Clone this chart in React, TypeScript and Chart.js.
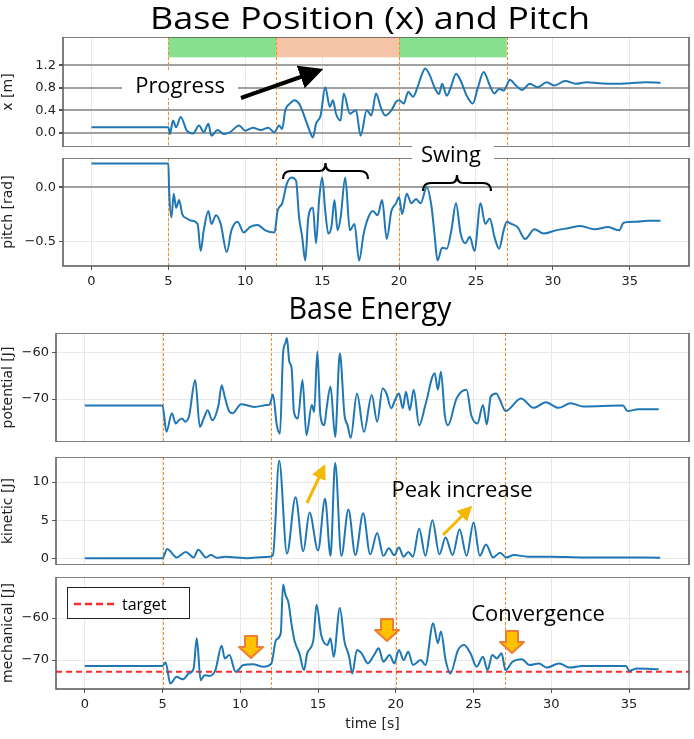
import React, { useEffect, useRef } from "react";
import { Chart, registerables } from "chart.js";
Chart.register(...registerables);

// ---------- data ----------
const xT = [0, 5, 5.1, 5.3, 5.5, 5.8, 6.2, 6.6, 7.0, 7.3, 7.6, 7.8, 8.2, 8.6, 9.0, 9.6, 10.0, 10.5, 11.0, 11.5, 11.9, 12.2, 12.4, 12.6, 12.9, 13.2, 13.5, 13.7, 13.9, 14.1, 14.4, 14.6, 14.9, 15.2, 15.5, 15.7, 15.9, 16.2, 16.4, 16.8, 17.2, 17.5, 17.9, 18.2, 18.5, 18.8, 19.1, 19.5, 19.8, 20.0, 20.3, 20.6, 20.9, 21.2, 21.5, 21.7, 22.0, 22.3, 22.6, 22.8, 23.1, 23.4, 23.7, 24.0, 24.4, 24.8, 25.1, 25.5, 25.9, 26.2, 26.5, 26.8, 27.0, 27.2, 27.6, 28.0, 28.5, 29.0, 29.6, 30.1, 30.8, 31.5, 32.2, 33.0, 34.0, 35.0, 36.0, 37];
const xVal = [0.10, 0.10, -0.02, 0.22, 0.10, 0.28, 0.04, -0.01, 0.13, 0.01, 0.16, -0.05, 0.05, -0.02, 0.01, 0.13, 0.04, 0.09, 0.05, 0.09, 0.01, 0.13, 0.07, 0.40, 0.52, 0.58, 0.52, 0.40, 0.25, 0.10, -0.08, 0.16, 0.31, 0.81, 0.46, 0.58, 0.34, 0.22, 0.70, 0.34, 0.40, -0.05, 0.40, 0.31, 0.70, 0.46, 0.31, 0.40, 0.55, 0.58, 0.52, 0.73, 0.64, 0.81, 1.05, 1.14, 1.02, 0.81, 0.69, 0.87, 0.66, 0.84, 1.05, 0.93, 0.66, 0.52, 0.78, 1.08, 0.84, 0.70, 0.78, 0.75, 0.84, 0.94, 0.84, 0.76, 0.87, 0.81, 0.90, 0.84, 0.92, 0.87, 0.90, 0.88, 0.87, 0.88, 0.90, 0.89];

const pT = [0, 5.0, 5.05, 5.2, 5.35, 5.5, 5.7, 5.9, 6.2, 6.5, 6.9, 7.1, 7.3, 7.6, 7.8, 8.1, 8.4, 8.8, 9.1, 9.5, 9.9, 10.3, 10.8, 11.3, 11.9, 12.1, 12.4, 12.7, 13.0, 13.3, 13.5, 13.7, 13.9, 14.1, 14.4, 14.6, 14.8, 15.0, 15.2, 15.4, 15.6, 15.8, 16.0, 16.2, 16.5, 16.8, 17.1, 17.4, 17.7, 18.0, 18.3, 18.6, 18.9, 19.2, 19.5, 19.8, 20.0, 20.2, 20.5, 20.8, 21.1, 21.4, 21.8, 22.1, 22.3, 22.5, 22.8, 23.1, 23.4, 23.7, 24.0, 24.3, 24.6, 24.9, 25.3, 25.6, 25.9, 26.2, 26.5, 26.8, 27.0, 27.3, 27.7, 28.2, 28.8, 29.4, 30.2, 31.0, 31.8, 32.7, 33.6, 34.3, 34.6, 35.4, 36.2, 37];
const pitchVal = [0.22, 0.22, -0.03, -0.28, -0.06, -0.19, -0.12, -0.25, -0.29, -0.31, -0.34, -0.59, -0.40, -0.22, -0.34, -0.26, -0.34, -0.60, -0.40, -0.32, -0.42, -0.37, -0.35, -0.40, -0.42, -0.22, -0.15, 0.03, 0.09, 0.06, -0.28, -0.46, -0.68, -0.28, -0.19, -0.52, -0.12, 0.09, -0.22, -0.43, -0.37, -0.12, -0.40, -0.28, 0.09, -0.40, -0.34, -0.68, -0.43, -0.28, -0.22, -0.26, -0.12, -0.48, -0.22, -0.15, -0.09, -0.25, -0.06, -0.15, -0.11, -0.15, 0.0, -0.17, -0.43, -0.68, -0.56, -0.57, -0.40, -0.15, -0.43, -0.52, -0.46, -0.59, -0.15, -0.34, -0.29, -0.46, -0.57, -0.40, -0.32, -0.34, -0.37, -0.48, -0.39, -0.43, -0.40, -0.38, -0.36, -0.39, -0.37, -0.40, -0.33, -0.32, -0.31, -0.31];

const uT = [0, 5, 5.25, 5.6, 5.85, 6.05, 6.25, 6.45, 6.7, 7.1, 7.4, 7.65, 7.9, 8.2, 8.6, 8.8, 9.0, 9.25, 9.5, 10.05, 10.9, 11.7, 11.9, 12.1, 12.35, 12.55, 12.75, 12.9, 13.0, 13.15, 13.3, 13.45, 13.7, 14.0, 14.25, 14.6, 14.75, 14.95, 15.15, 15.4, 15.55, 15.8, 16.1, 16.4, 16.7, 16.9, 17.1, 17.5, 17.95, 18.45, 18.8, 19.15, 19.4, 19.7, 19.95, 20.2, 20.45, 20.65, 20.9, 21.15, 21.5, 21.9, 22.5, 22.7, 22.9, 23.15, 23.35, 23.9, 24.55, 24.85, 25.25, 25.6, 25.85, 26.1, 26.45, 26.7, 27.05, 28.05, 28.85, 29.65, 30.45, 31.25, 32.05, 34.6, 34.9, 35.6, 36.9];
const potentialVal = [-71.4, -71.4, -77.1, -73.1, -75.3, -74.6, -74.2, -74.9, -73.8, -65.9, -76.0, -74.2, -72.4, -74.6, -71.3, -67.0, -69.5, -72.4, -73.1, -71.1, -71.7, -71.3, -71.1, -69.0, -75.7, -77.5, -60.1, -57.9, -56.8, -61.9, -63.3, -72.8, -74.2, -65.9, -77.8, -71.3, -72.8, -59.7, -73.5, -75.7, -72.0, -67.3, -78.2, -60.1, -73.5, -75.7, -78.4, -68.8, -77.1, -69.1, -74.9, -67.7, -68.8, -72.0, -70.2, -68.8, -72.0, -68.4, -72.4, -68.0, -75.7, -71.3, -64.4, -68.0, -64.1, -73.5, -75.7, -69.9, -68.0, -73.5, -75.3, -71.3, -75.5, -69.5, -68.8, -70.2, -72.6, -69.9, -71.9, -70.7, -71.9, -70.9, -71.6, -71.4, -72.6, -72.2, -72.2];

const kT = [0, 5, 5.3, 5.9, 6.5, 7.0, 7.3, 7.8, 8.1, 8.5, 9.0, 10.5, 11.9, 12.1, 12.5, 13.0, 13.55, 14.05, 14.45, 15.0, 15.45, 15.8, 16.1, 16.5, 16.95, 17.4, 17.9, 18.35, 18.8, 19.2, 19.55, 19.9, 20.2, 20.5, 20.8, 21.1, 21.5, 21.9, 22.35, 22.8, 23.2, 23.65, 24.1, 24.55, 25.0, 25.4, 25.8, 26.25, 26.7, 27.1, 27.6, 28.5, 30, 32, 34, 37];
const kineticVal = [0.0, 0.0, 1.2, 0.1, 0.8, 0.1, 1.1, 0.1, 0.4, 0.05, 0.2, 0.0, 0.2, 0.4, 12.8, 0.6, 8.0, 0.9, 6.0, 1.0, 7.8, 0.3, 12.5, 0.3, 6.4, 0.4, 5.9, 0.5, 3.3, 0.3, 1.3, 0.4, 1.4, 0.2, 0.8, 0.2, 3.9, 0.3, 5.0, 0.5, 2.7, 0.4, 3.8, 0.3, 4.7, 0.3, 1.8, 0.1, 0.7, 0.1, 0.4, 0.2, 0.2, 0.1, 0.1, 0.05];

const mT = [0, 5, 5.2, 5.5, 5.9, 6.3, 6.7, 7.0, 7.2, 7.45, 7.7, 8.0, 8.4, 8.8, 9.0, 9.3, 9.7, 10.2, 10.8, 11.5, 12.0, 12.3, 12.6, 12.75, 12.9, 13.1, 13.3, 13.5, 13.8, 14.1, 14.3, 14.7, 14.9, 15.2, 15.6, 15.8, 16.0, 16.4, 16.7, 17.0, 17.2, 17.5, 17.8, 18.2, 18.6, 18.9, 19.2, 19.6, 19.9, 20.2, 20.5, 20.8, 21.1, 21.6, 21.9, 22.4, 22.7, 22.9, 23.2, 23.5, 24.0, 24.4, 24.8, 25.2, 25.6, 25.9, 26.2, 26.5, 26.8, 27.05, 27.5, 28.1, 28.6, 29.2, 29.7, 30.5, 31.2, 32.0, 34.8, 35.0, 35.5, 36.9];
const mechanicalVal = [-71.4, -71.4, -70.6, -75.6, -74.0, -74.6, -73.2, -72.0, -64.8, -74.8, -73.6, -73.8, -72.4, -66.6, -69.6, -68.8, -72.8, -71.2, -71.0, -71.6, -70.8, -65.2, -63.6, -52.0, -54.4, -56.4, -61.6, -65.6, -68.4, -72.4, -68.4, -65.2, -56.8, -64.0, -66.4, -64.8, -69.2, -57.6, -65.6, -69.2, -73.2, -67.6, -68.4, -70.8, -68.8, -67.2, -70.4, -68.8, -70.8, -67.6, -70.0, -68.0, -71.2, -70.0, -71.2, -61.2, -66.0, -63.2, -70.0, -73.2, -67.6, -66.4, -68.4, -71.6, -69.2, -72.4, -68.8, -69.6, -68.4, -72.4, -70.4, -69.8, -71.2, -70.8, -71.8, -70.8, -71.8, -71.4, -71.4, -72.6, -72.0, -72.2];

const targetEnergy = -72.8;
const phaseLines = [5, 12, 20, 27];
const phaseBands = [[5, 12, "#86e08e"], [12, 20, "#f5c4a7"], [20, 27, "#86e08e"]];
const xTicks = [0, 5, 10, 15, 20, 25, 30, 35];

// ---------- chart helpers ----------
const FONT = "'DejaVu Sans', sans-serif";
const minus = (v: number, d: number) => v.toFixed(d).replace("-", "\u2212");

const marksPlugin = {
  id: "marks",
  beforeDatasetsDraw(chart: any, _a: any, opts: any) {
    const { ctx, chartArea: a, scales } = chart;
    const xs = scales.x, ys = scales.y;
    ctx.save();
    if (opts.bands) {
      for (const [s, e, c] of phaseBands as any) {
        ctx.fillStyle = c;
        const y0 = ys.getPixelForValue(opts.bands[1]);
        const y1 = ys.getPixelForValue(opts.bands[0]);
        ctx.fillRect(xs.getPixelForValue(s), y0, xs.getPixelForValue(e) - xs.getPixelForValue(s), y1 - y0);
      }
    }
    ctx.strokeStyle = "#ff8c1a";
    ctx.lineWidth = 1;
    ctx.setLineDash([3, 2]);
    for (const t of phaseLines) {
      const px = Math.round(xs.getPixelForValue(t)) + 0.5;
      ctx.beginPath(); ctx.moveTo(px, a.top); ctx.lineTo(px, a.bottom); ctx.stroke();
    }
    ctx.restore();
  },
  afterDraw(chart: any) {
    const { ctx, chartArea: a } = chart;
    ctx.save();
    ctx.strokeStyle = "#555";
    ctx.lineWidth = 1.5;
    ctx.strokeRect(a.left, a.top, a.right - a.left, a.bottom - a.top);
    ctx.restore();
  },
};

type Spec = {
  top: number; bottom: number; left: number; right: number;
  t: number[]; v: number[]; ymin: number; ymax: number; yticks: number[]; dec: number;
  ylabel: string; showX: boolean; xTitle?: boolean; heavy?: number[]; bands?: number[]; target?: boolean;
};

function Panel({ s }: { s: Spec }) {
  const ref = useRef<HTMLCanvasElement>(null);
  const xH = s.showX ? (s.xTitle ? 44 : 24) : 0;
  const h = s.bottom - s.top + xH;
  useEffect(() => {
    const datasets: any[] = [{
      data: s.t.map((t, i) => ({ x: t, y: s.v[i] })),
      borderColor: "#1f77b4", borderWidth: 2, pointRadius: 0,
      cubicInterpolationMode: "monotone", fill: false,
    }];
    if (s.target) {
      datasets.push({
        data: [{ x: -1.85, y: targetEnergy }, { x: 38.85, y: targetEnergy }],
        borderColor: "#ff2a2a", borderWidth: 2, borderDash: [6, 4], pointRadius: 0,
      });
    }
    const c = new Chart(ref.current!, {
      type: "line",
      data: { datasets },
      plugins: [marksPlugin],
      options: {
        animation: false, responsive: false, maintainAspectRatio: false,
        layout: { padding: { left: 0, right: 694 - s.right, top: 0, bottom: 0 } },
        plugins: { legend: { display: false }, tooltip: { enabled: false }, marks: { bands: s.bands } } as any,
        scales: {
          x: {
            type: "linear", min: -1.85, max: 38.85,
            afterBuildTicks: (sc: any) => { sc.ticks = xTicks.map((v) => ({ value: v })); },
            afterFit: (sc: any) => { sc.height = xH; sc.paddingLeft = 0; sc.paddingRight = 0; },
            border: { display: false },
            grid: { color: "#e8e8e8", lineWidth: 1, tickLength: 4, tickColor: "#555" },
            ticks: { display: s.showX, color: "#222", font: { family: FONT, size: 13 }, maxRotation: 0, padding: 4 },
            title: { display: !!s.xTitle, text: "time [s]", color: "#222", font: { family: FONT, size: 14 }, padding: { top: 0, bottom: 0 } },
          },
          y: {
            min: s.ymin, max: s.ymax,
            afterBuildTicks: (sc: any) => { sc.ticks = s.yticks.map((v) => ({ value: v })); },
            afterFit: (sc: any) => { sc.width = s.left; sc.paddingTop = 0; sc.paddingBottom = 0; },
            border: { display: false },
            grid: {
              color: (ctx: any) => (s.heavy && s.heavy.includes(ctx.tick?.value) ? "#a0a0a0" : "#e8e8e8"),
              lineWidth: (ctx: any) => (s.heavy && s.heavy.includes(ctx.tick?.value) ? 2 : 1),
              tickLength: 4, tickColor: "#555",
            },
            ticks: { color: "#222", font: { family: FONT, size: 13 }, padding: 3, callback: (v: any) => minus(Number(v), s.dec) },
            title: { display: true, text: s.ylabel, color: "#222", font: { family: FONT, size: 14 }, padding: { top: 0, bottom: 0 } },
          },
        },
      } as any,
    });
    return () => c.destroy();
  }, []);
  return (
    <div style={{ position: "absolute", left: 0, top: s.top, width: 694, height: h }}>
      <canvas ref={ref} width={694} height={h} style={{ width: 694, height: h, display: "block" }} />
    </div>
  );
}

const specs: Spec[] = [
  { top: 37, bottom: 147, left: 63, right: 689, t: xT, v: xVal, ymin: -0.25, ymax: 1.70, yticks: [0, 0.4, 0.8, 1.2], dec: 1, ylabel: "x [m]", showX: false, heavy: [0, 0.4, 0.8, 1.2], bands: [1.34, 1.70] },
  { top: 158, bottom: 266, left: 63, right: 689, t: pT, v: pitchVal, ymin: -0.73, ymax: 0.27, yticks: [-0.5, 0], dec: 1, ylabel: "pitch [rad]", showX: true, heavy: [0] },
  { top: 333, bottom: 442, left: 56, right: 689, t: uT, v: potentialVal, ymin: -79.3, ymax: -55.7, yticks: [-70, -60], dec: 0, ylabel: "potential [J]", showX: false },
  { top: 457, bottom: 565, left: 56, right: 689, t: kT, v: kineticVal, ymin: -0.9, ymax: 13.3, yticks: [0, 5, 10], dec: 0, ylabel: "kinetic [J]", showX: false },
  { top: 577, bottom: 689, left: 56, right: 689, t: mT, v: mechanicalVal, ymin: -76.9, ymax: -50.2, yticks: [-70, -60], dec: 0, ylabel: "mechanical [J]", showX: true, xTitle: true, target: true },
];

const ANN = "'Open Sans', 'Noto Sans', sans-serif";

function DownArrow({ cx, y0, y1 }: { cx: number; y0: number; y1: number }) {
  const w = 24, sw = 12, hh = 11;
  const p = [
    [cx - sw / 2, y0], [cx + sw / 2, y0], [cx + sw / 2, y1 - hh], [cx + w / 2, y1 - hh],
    [cx, y1], [cx - w / 2, y1 - hh], [cx - sw / 2, y1 - hh],
  ].map((q) => q.join(",")).join(" ");
  return <polygon points={p} fill="#ffc000" stroke="#ed7d31" strokeWidth={2} strokeLinejoin="round" />;
}

function Brace({ x0, x1, y, h }: { x0: number; x1: number; y: number; h: number }) {
  const m = (x0 + x1) / 2;
  const d = `M${x0},${y + h} Q${x0},${y} ${x0 + 8},${y} L${m - 6},${y} Q${m},${y} ${m},${y - h} Q${m},${y} ${m + 6},${y} L${x1 - 8},${y} Q${x1},${y} ${x1},${y + h}`;
  return <path d={d} fill="none" stroke="#000" strokeWidth={2.2} />;
}

export default function App() {
  return (
    <div style={{ position: "fixed", left: 0, top: 0, width: 694, height: 739, background: "#fff", overflow: "hidden" }}>
      {specs.map((s, i) => <Panel key={i} s={s} />)}
      <svg width={694} height={739} style={{ position: "absolute", left: 0, top: 0, pointerEvents: "none" }}>
        <defs>
          <marker id="blk" markerWidth="6" markerHeight="6" refX="3" refY="3" orient="auto">
            <path d="M0,0 L6,3 L0,6 z" fill="#000" />
          </marker>
          <marker id="yel" markerWidth="5" markerHeight="5" refX="2.5" refY="2.5" orient="auto">
            <path d="M0,0 L5,2.5 L0,5 z" fill="#f5b800" />
          </marker>
        </defs>
        <text x={370} y={29} textAnchor="middle" fontFamily={ANN} fontSize={31} textLength={440} lengthAdjust="spacingAndGlyphs" fill="#000">Base Position (x) and Pitch</text>
        <text x={370} y={319} textAnchor="middle" fontFamily={ANN} fontSize={31} textLength={163} lengthAdjust="spacingAndGlyphs" fill="#000">Base Energy</text>
        <rect x={122} y={70} width={116} height={28} fill="#fff" />
        <text x={180} y={93} textAnchor="middle" fontFamily={ANN} fontSize={22}>Progress</text>
        <line x1={241} y1={98} x2={312} y2={73} stroke="#000" strokeWidth={4} markerEnd="url(#blk)" />
        <rect x={412} y={140} width={82} height={28} fill="#fff" />
        <text x={451} y={162} textAnchor="middle" fontFamily={ANN} fontSize={22}>Swing</text>
        <Brace x0={283} x1={368} y={171} h={8} />
        <Brace x0={423} x1={491} y={183} h={8} />
        <text x={462} y={497} textAnchor="middle" fontFamily={ANN} fontSize={22}>Peak increase</text>
        <line x1={307} y1={503} x2={322} y2={471} stroke="#f5b800" strokeWidth={3} markerEnd="url(#yel)" />
        <line x1={443} y1={535} x2={467} y2={511} stroke="#f5b800" strokeWidth={3} markerEnd="url(#yel)" />
        <text x={538} y={621} textAnchor="middle" fontFamily={ANN} fontSize={22}>Convergence</text>
        <DownArrow cx={251} y0={636} y1={658} />
        <DownArrow cx={387} y0={619} y1={641} />
        <DownArrow cx={512} y0={631} y1={653} />
        <rect x={67.5} y={587.5} width={122} height={31} fill="#fff" stroke="#222" strokeWidth={1} />
        <line x1={74} y1={604} x2={114} y2={604} stroke="#ff2a2a" strokeWidth={2.5} strokeDasharray="7,4" />
        <text x={122} y={610} fontFamily={ANN} fontSize={16}>target</text>
      </svg>
    </div>
  );
}
